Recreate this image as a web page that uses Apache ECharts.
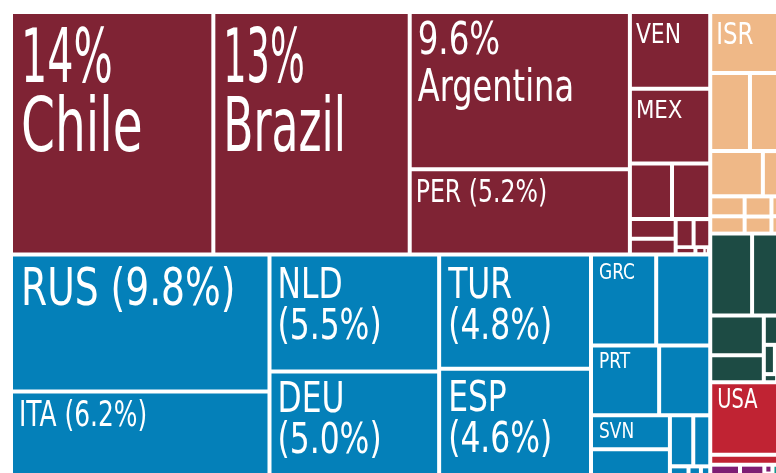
<!DOCTYPE html>
<html>
<head>
<meta charset="utf-8">
<script src="https://cdn.jsdelivr.net/npm/echarts@6/dist/echarts.min.js"></script>
<style>
  html, body { margin: 0; padding: 0; background: #fff; }
  #chart { width: 776px; height: 473px; }
</style>
</head>
<body>
<div id="chart"></div>
<script>
// shares in % (unlabeled cells estimated from their area)
const saNames = ['Chile', 'Brazil', 'Argentina', 'PER', 'VEN', 'MEX', 'sa-7', 'sa-8', 'sa-9', 'sa-10', 'sa-11', 'sa-12', 'sa-13', 'sa-14', 'sa-15']
const saValues = [13.6, 13.2, 9.6, 5.2, 1.71, 1.66, 0.65, 0.59, 0.25, 0.2, 0.14, 0.13, 0.04, 0.02, 0.01]

const euNames = ['RUS', 'ITA', 'NLD', 'DEU', 'TUR', 'ESP', 'GRC', 'eu-8', 'PRT', 'eu-10', 'SVN', 'eu-12', 'eu-13', 'eu-14', 'eu-15', 'eu-16', 'eu-17']
const euValues = [9.8, 6.2, 5.5, 5.0, 4.8, 4.6, 1.64, 1.36, 1.32, 0.99, 0.74, 0.63, 0.33, 0.24, 0.06, 0.04, 0.03]

const asNames = ['ISR', 'as-2', 'as-3', 'as-4', 'as-5', 'as-6', 'as-7', 'as-8', 'as-9', 'as-10', 'as-11']
const asValues = [1.28, 0.86, 0.78, 0.66, 0.29, 0.19, 0.165, 0.15, 0.127, 0.08, 0.07]

const afNames = ['af-1', 'af-2', 'af-3', 'af-4', 'af-5', 'af-6', 'af-7', 'af-8', 'af-9']
const afValues = [0.95, 0.77, 0.59, 0.40, 0.18, 0.09, 0.09, 0.03, 0.02]

const naNames = ['USA', 'na-2']
const naValues = [1.52, 0.21]

const otNames = ['ot-1', 'ot-2', 'ot-3', 'ot-4']
const otValues = [0.11, 0.09, 0.02, 0.01]

const ocNames = ['oc-1']
const ocValues = [0.05]

const continents = ['South America', 'Europe', 'Asia', 'Africa', 'North America', 'Other', 'Oceania']
const continentColors = ['#7f2334', '#0480b9', '#efb887', '#1d4b44', '#c02333', '#7e1e73', '#12968c']

// label kinds
const bigLabels = ['Chile', 'Brazil', 'Argentina'] // "14%\nChile"
const inlineLabels = ['PER', 'RUS', 'ITA'] // "RUS (9.8%)"
const stackedLabels = ['NLD', 'DEU', 'TUR', 'ESP'] // "NLD\n(5.5%)"
const codeLabels = ['VEN', 'MEX', 'GRC', 'PRT', 'SVN', 'ISR', 'USA']

// fontSize, lineHeight, offset x, offset y, horizontal squeeze per line
const labelLook = {
  Chile: [74, 69, 8, 14, [0.62, 0.73]],
  Brazil: [74, 69, 8, 14, [0.55, 0.66]],
  Argentina: [44, 47, 6, 5, [0.82, 0.81]],
  PER: [32, 32, 4, 6, [0.82]],
  RUS: [51, 51, 8, 10, [0.82]],
  ITA: [36, 36, 6, 5, [0.77]],
  NLD: [42, 41, 6, 10, [0.83, 0.83]],
  DEU: [42, 41, 6, 7, [0.83, 0.83]],
  TUR: [42, 41, 7, 10, [0.83, 0.83]],
  ESP: [42, 41, 7, 9, [0.83, 0.83]],
  VEN: [27, 27, 4, 8, [0.9]],
  MEX: [25, 25, 4, 8, [0.95]],
  GRC: [21, 21, 6, 6, [0.9]],
  PRT: [21, 21, 6, 5, [0.9]],
  SVN: [21, 21, 6, 5, [0.9]],
  ISR: [30, 30, 4, 7, [0.85]],
  USA: [26, 26, 5, 4, [0.83]]
}

const pct = v => (v >= 10 ? Math.round(v) : v.toFixed(1)) + '%'

function labelText (name, value) {
  if (bigLabels.includes(name)) return pct(value) + '\n' + name
  if (inlineLabels.includes(name)) return name + ' (' + pct(value) + ')'
  if (stackedLabels.includes(name)) return name + '\n(' + pct(value) + ')'
  if (codeLabels.includes(name)) return name
  return null
}

function leaves (names, values) {
  return names.map((n, i) => {
    const text = labelText(n, values[i])
    if (!text) return { name: n, value: values[i], label: { show: false } }
    const look = labelLook[n]
    return {
      name: n,
      value: values[i],
      label: {
        show: true,
        formatter: text,
        fontSize: look[0],
        lineHeight: look[1],
        position: [look[2], look[3]]
      }
    }
  })
}

const groups = [
  [saNames, saValues], [euNames, euValues], [asNames, asValues], [afNames, afValues],
  [naNames, naValues], [otNames, otValues], [ocNames, ocValues]
]

const treeData = groups.map((g, i) => ({
  name: continents[i],
  itemStyle: { color: continentColors[i] },
  children: leaves(g[0], g[1])
}))

const chart = echarts.init(document.getElementById('chart'), null, { renderer: 'canvas' })
chart.setOption({
  backgroundColor: '#fff',
  animation: false,
  series: [{
    type: 'treemap',
    left: 13,
    top: 14,
    width: 771,
    height: 462,
    roam: false,
    nodeClick: false,
    breadcrumb: { show: false },
    visibleMin: 1,
    squareRatio: 0.5 * (1 + Math.sqrt(5)),
    label: {
      show: true,
      color: '#fff',
      fontFamily: "'DejaVu Sans Condensed', 'DejaVu Sans', sans-serif",
      overflow: 'none',
      padding: 0,
      distance: 0,
      verticalAlign: 'top',
      align: 'left'
    },
    upperLabel: { show: false },
    itemStyle: { borderWidth: 0, gapWidth: 4, borderColor: '#fff' },
    levels: [
      { itemStyle: { borderWidth: 0, gapWidth: 4 } },
      { itemStyle: { borderWidth: 0, gapWidth: 4 } },
      { itemStyle: { borderWidth: 0, gapWidth: 0 } }
    ],
    emphasis: { disabled: true },
    data: treeData
  }]
})

// the original uses a compressed face; squeeze each text line of the condensed one
chart.getZr().storage.getDisplayList(true).forEach(el => {
  if (el.type !== 'tspan' || !el.style || !el.style.text) return
  const host = String(el.parent && el.parent.style ? el.parent.style.text : el.style.text)
  const name = Object.keys(labelLook).find(n => host.includes(n))
  if (!name) return
  const squeeze = labelLook[name][4]
  const line = Math.max(0, host.split('\n').indexOf(el.style.text))
  el.scaleX = squeeze[Math.min(line, squeeze.length - 1)]
  el.originX = el.style.x || 0
  el.markRedraw()
})
chart.getZr().refresh()
</script>
</body>
</html>
